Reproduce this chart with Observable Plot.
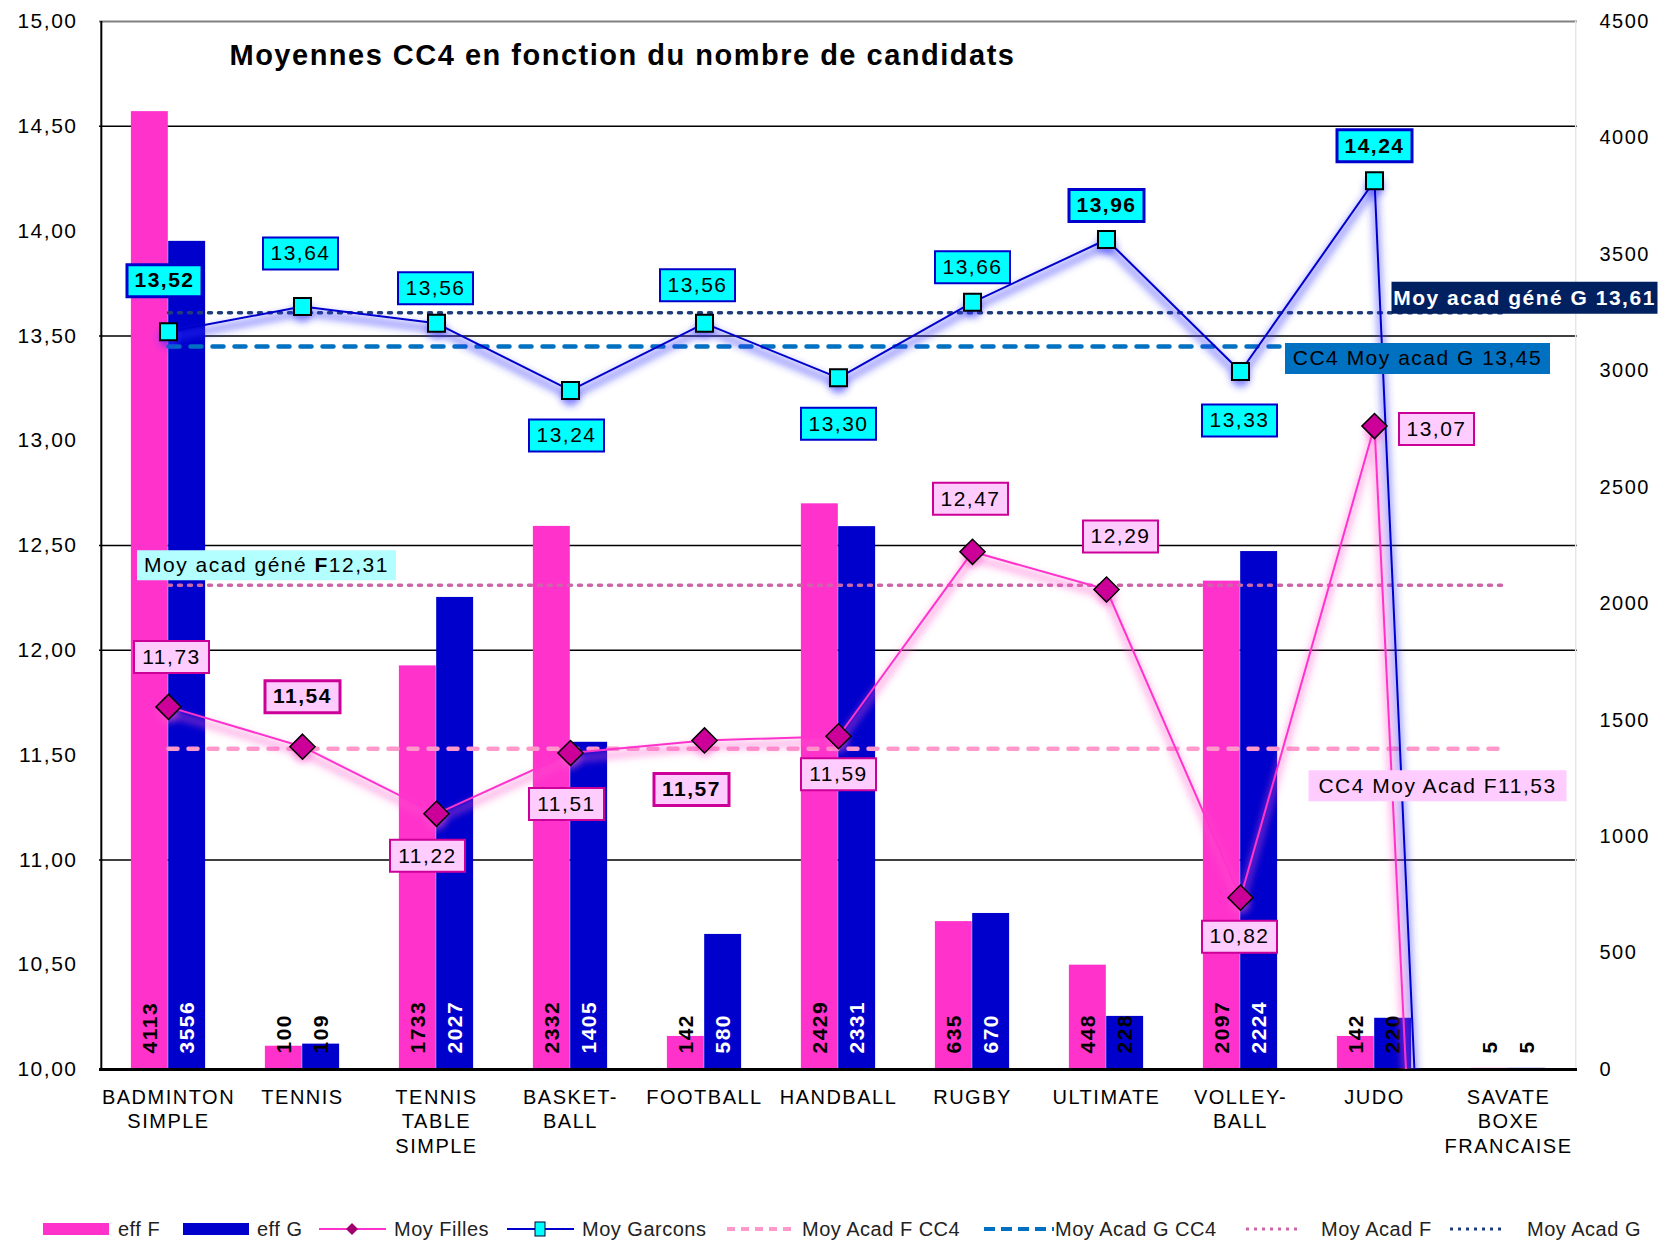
<!DOCTYPE html>
<html><head><meta charset="utf-8">
<script src="https://cdn.jsdelivr.net/npm/d3@7"></script>
<script src="https://cdn.jsdelivr.net/npm/@observablehq/plot@0.6"></script>
<style>
html,body{margin:0;padding:0;background:#fff;overflow:hidden;}
body{font-family:"Liberation Sans",Arial,sans-serif;width:1671px;}
#chart svg{letter-spacing:1.5px;display:block;}
#legend{position:relative;width:1671px;height:37px;font-size:20px;color:#222;}
#legend .sw{position:absolute;top:6px;height:24px;}
#legend .lb{position:absolute;top:12px;line-height:24px;white-space:nowrap;letter-spacing:0.5px;}
</style></head><body>
<div id="chart"></div>
<div id="legend"></div>
<script>
// ---------- data ----------
const title = "Moyennes CC4 en fonction du nombre de candidats";
const categories = ["BADMINTON\nSIMPLE","TENNIS","TENNIS\nTABLE\nSIMPLE","BASKET-\nBALL","FOOTBALL","HANDBALL","RUGBY","ULTIMATE","VOLLEY-\nBALL","JUDO","SAVATE\nBOXE\nFRANCAISE"];
const effF = [4113,100,1733,2332,142,2429,635,448,2097,142,5];
const effG = [3556,109,2027,1405,580,2331,670,228,2224,220,5];
const moyFilles  = [11.73,11.54,11.22,11.51,11.57,11.59,12.47,12.29,10.82,13.07,0];
const moyGarcons = [13.52,13.64,13.56,13.24,13.56,13.30,13.66,13.96,13.33,14.24,0];
const moyAcadFCC4 = 11.53;
const moyAcadGCC4 = 13.45;
const moyAcadF = 12.31;
const moyAcadG = 13.61;
const leftTicks = [10,10.5,11,11.5,12,12.5,13,13.5,14,14.5,15];
const rightTicks = [0,500,1000,1500,2000,2500,3000,3500,4000,4500];
const gridValues = [14.5,13.5,12.5,12,11];
const legendLabels = ["eff F","eff G","Moy Filles","Moy Garcons","Moy Acad F CC4","Moy Acad G CC4","Moy Acad F","Moy Acad G"];

// ---------- styling / placement ----------
const W = 1671, H = 1205, mL = 99, mR = 94, mT = 21, mB = 136;
const bw = (W - mL - mR) / categories.length;
const barW = 37.3;
const pink = "#ff33cc", blue = "#0000cc";
const gLabelOffset = [[-4,-51],[-2,-53],[-1,-35],[-4,45],[-7,-38],[0,46],[0,-35],[0,-34],[-1,49],[0,-35]];
const fLabelOffset = [[3,-50],[0,-50],[-9,42],[-4,51],[-13,49],[0,38],[-2,-53],[14,-53],[-1,39],[62,3]];
const gBold = [true,false,false,false,false,false,false,true,false,true];
const fBold = [false,true,false,false,true,false,false,false,false,false];

const toLeft = v => 10 + v / 900;            // right axis (effectifs) -> left axis units
const fmt = v => v.toFixed(2).replace(".", ",");

const rows = categories.map((cat, i) => ({cat, f: effF[i], g: effG[i], mf: moyFilles[i], mg: moyGarcons[i]}));
const pts = rows.filter(d => d.mf > 0);
const refLine = v => [{x: categories[0], y: v}, {x: categories[categories.length - 1], y: v}];
const box = (w, h) => ({draw(ctx) { ctx.moveTo(-w/2, -h/2); ctx.lineTo(w/2, -h/2); ctx.lineTo(w/2, h/2); ctx.lineTo(-w/2, h/2); ctx.closePath(); }});

const gLabelMarks = pts.flatMap((d, k) => {
  const [dx, dy] = gLabelOffset[k];
  return [
    Plot.dot([d], {x: "cat", y: "mg", symbol: box(75, 32), r: 10, fill: "#00ffff", stroke: blue, strokeWidth: gBold[k] ? 3 : 2, dx, dy}),
    Plot.text([d], {x: "cat", y: "mg", text: d => fmt(d.mg), dx, dy, fontSize: 21, fontWeight: gBold[k] ? "bold" : "normal", fill: "black"})
  ];
});
const fLabelMarks = pts.flatMap((d, k) => {
  const [dx, dy] = fLabelOffset[k];
  return [
    Plot.dot([d], {x: "cat", y: "mf", symbol: box(75, 32), r: 10, fill: "#ffccff", stroke: "#cc0099", strokeWidth: fBold[k] ? 3 : 2, dx, dy}),
    Plot.text([d], {x: "cat", y: "mf", text: d => fmt(d.mf), dx, dy, fontSize: 21, fontWeight: fBold[k] ? "bold" : "normal", fill: "black"})
  ];
});

const annotations = [
  {text: `Moy acad géné G ${fmt(moyAcadG)}`, x: categories[10], y: moyAcadG, dx: 16, dy: -15, w: 266, h: 32, bg: "#002060", color: "white", bold: true},
  {text: `CC4 Moy acad G ${fmt(moyAcadGCC4)}`, x: categories[9], y: moyAcadGCC4, dx: 43, dy: 12, w: 265, h: 31, bg: "#0070c0", color: "black", bold: false},
  {text: `Moy acad géné F${fmt(moyAcadF)}`, x: categories[1], y: moyAcadF, dx: -36, dy: -20, w: 259, h: 30, bg: "#b3ffff", color: "black", bold: false},
  {text: `CC4 Moy Acad F${fmt(moyAcadFCC4)}`, x: categories[9], y: moyAcadFCC4, dx: 63, dy: 37, w: 258, h: 31, bg: "#ffccff", color: "black", bold: false}
];
const annMarks = annotations.flatMap(a => [
  Plot.dot([a], {x: "x", y: "y", symbol: box(a.w, a.h), r: 10, fill: a.bg, dx: a.dx, dy: a.dy}),
  Plot.text([a], {x: "x", y: "y", text: "text", dx: a.dx, dy: a.dy, fill: a.color, fontSize: 21, fontWeight: a.bold ? "bold" : "normal"})
]);

const chart = Plot.plot({
  width: W, height: H,
  marginLeft: mL, marginRight: mR, marginTop: mT, marginBottom: mB,
  style: {fontFamily: "'Liberation Sans', Arial, sans-serif", fontSize: "20px", color: "black", background: "white", overflow: "visible"},
  x: {type: "band", domain: categories, padding: 0, label: null},
  y: {domain: [10, 15], label: null},
  marks: [
    Plot.ruleY(gridValues, {stroke: "black", strokeWidth: 1.5}),
    Plot.ruleY([15], {stroke: "#808080", strokeWidth: 2}),
    Plot.ruleX([categories[categories.length - 1]], {y1: 10, y2: 15, dx: bw / 2, stroke: "#e6e6e6", strokeWidth: 1.5}),
    // bars (effectifs, right axis)
    Plot.barY(rows, {x: "cat", y1: 10, y2: d => toLeft(d.f), fill: pink, insetLeft: bw / 2 - barW, insetRight: bw / 2}),
    Plot.barY(rows, {x: "cat", y1: 10, y2: d => toLeft(d.g), fill: blue, insetLeft: bw / 2, insetRight: bw / 2 - barW}),
    Plot.text(rows, {x: "cat", y: 10, text: d => String(d.f), rotate: -90, textAnchor: "start", lineAnchor: "middle", dx: -barW / 2, dy: -16, fontWeight: "bold", fontSize: 21, fill: "black"}),
    Plot.text(rows, {x: "cat", y: 10, text: d => String(d.g), rotate: -90, textAnchor: "start", lineAnchor: "middle", dx: barW / 2, dy: -16, fontWeight: "bold", fontSize: 21, fill: d => d.g >= 400 ? "white" : "black"}),
    // axes lines
    Plot.ruleX([categories[0]], {y1: 10, y2: 15, dx: -bw / 2, stroke: "black", strokeWidth: 2}),
    Plot.ruleY([10], {stroke: "black", strokeWidth: 3}),
    // reference lines
    Plot.line(refLine(moyAcadFCC4), {x: "x", y: "y", stroke: "#ff99cc", strokeWidth: 4.5, strokeDasharray: "9,11", strokeLinecap: "round"}),
    Plot.line(refLine(moyAcadGCC4), {x: "x", y: "y", stroke: "#0070c0", strokeWidth: 4.5, strokeDasharray: "11,11", strokeLinecap: "round"}),
    Plot.line(refLine(moyAcadF), {x: "x", y: "y", stroke: "#cc66a8", strokeWidth: 3.5, strokeDasharray: "3,7"}),
    Plot.line(refLine(moyAcadG), {x: "x", y: "y", stroke: "#1f3d7a", strokeWidth: 3.5, strokeDasharray: "3,7"}),
    // glow shadows
    Plot.line(rows, {x: "cat", y: "mg", stroke: "#3333ff", strokeOpacity: 0.45, strokeWidth: 8, dy: 6, clip: true, ariaDescription: "glow"}),
    Plot.line(rows, {x: "cat", y: "mf", stroke: "#ff55cc", strokeOpacity: 0.4, strokeWidth: 8, dy: 6, clip: true, ariaDescription: "glow"}),
    Plot.dot(pts, {x: "cat", y: "mg", r: 10, fill: "#3333ff", fillOpacity: 0.5, dy: 6, ariaDescription: "glow"}),
    Plot.dot(pts, {x: "cat", y: "mf", r: 10, fill: "#ff55cc", fillOpacity: 0.5, dy: 6, ariaDescription: "glow"}),
    // series lines
    Plot.line(rows, {x: "cat", y: "mg", stroke: blue, strokeWidth: 2, clip: true}),
    Plot.line(rows, {x: "cat", y: "mf", stroke: pink, strokeWidth: 2, clip: true}),
    Plot.dot(pts, {x: "cat", y: "mf", symbol: "diamond2", r: 11.3, fill: "#cc0099", stroke: "black", strokeWidth: 1.5}),
    Plot.dot(pts, {x: "cat", y: "mg", symbol: "square", r: 9.6, fill: "#00ffff", stroke: "black", strokeWidth: 2}),
    ...gLabelMarks,
    ...fLabelMarks,
    ...annMarks,
    // title
    Plot.text([title], {frameAnchor: "top-left", text: d => d, textAnchor: "start", lineAnchor: "middle", dx: 130, dy: 34, fontSize: 29, fontWeight: "bold"}),
    // axes
    Plot.axisY(leftTicks, {anchor: "left", tickSize: 0, tickPadding: 22, tickFormat: fmt, fontSize: 21, label: null}),
    Plot.axisY(rightTicks.map(toLeft), {anchor: "right", tickSize: 0, tickPadding: 22, tickFormat: d => String(Math.round((d - 10) * 900)), fontSize: 20, label: null}),
    Plot.axisX({anchor: "bottom", tickSize: 0, tickPadding: 17, fontSize: 20, lineHeight: 1.22, label: null})
  ]
});
document.getElementById("chart").append(chart);

// glow filter
const svg = d3.select(chart.tagName.toLowerCase() === "svg" ? chart : chart.querySelector("svg"));
svg.insert("defs", ":first-child").html('<filter id="glow" x="-10%" y="-20%" width="120%" height="140%"><feGaussianBlur stdDeviation="3.5"/></filter>');
svg.selectAll('[aria-description="glow"]').attr("filter", "url(#glow)");
// bold "F" in the acad F label
svg.selectAll("text").filter(function() { return this.textContent === annotations[2].text; }).each(function() {
  const t = d3.select(this); t.text("");
  t.append("tspan").text("Moy acad géné ");
  t.append("tspan").attr("font-weight", "bold").text("F");
  t.append("tspan").text(fmt(moyAcadF));
});

// ---------- legend ----------
const legendSwatch = [
  {left: 43, w: 66, svg: `<rect x="0" y="6" width="66" height="12" fill="${pink}"/>`},
  {left: 183, w: 66, svg: `<rect x="0" y="6" width="66" height="12" fill="${blue}"/>`},
  {left: 319, w: 67, svg: `<line x1="0" y1="12" x2="67" y2="12" stroke="${pink}" stroke-width="2"/><path d="M33,6 L39,12 L33,18 L27,12Z" fill="#a0006e"/>`},
  {left: 507, w: 67, svg: `<line x1="0" y1="12" x2="67" y2="12" stroke="${blue}" stroke-width="2"/><rect x="28" y="5" width="10" height="14" fill="#00ffff" stroke="#003" stroke-width="1"/>`},
  {left: 724, w: 74, svg: `<line x1="3" y1="12" x2="72" y2="12" stroke="#ff99cc" stroke-width="4" stroke-dasharray="8,6"/>`},
  {left: 982, w: 72, svg: `<line x1="2" y1="12" x2="72" y2="12" stroke="#0070c0" stroke-width="4" stroke-dasharray="11,6"/>`},
  {left: 1246, w: 54, svg: `<line x1="0" y1="12" x2="54" y2="12" stroke="#cc66a8" stroke-width="3" stroke-dasharray="3,5"/>`},
  {left: 1450, w: 54, svg: `<line x1="0" y1="12" x2="54" y2="12" stroke="#1f3d7a" stroke-width="3" stroke-dasharray="3,5"/>`}
];
const legendTextLeft = [118, 257, 394, 582, 802, 1055, 1321, 1527];
const legend = document.getElementById("legend");
legendLabels.forEach((label, i) => {
  const s = legendSwatch[i];
  legend.insertAdjacentHTML("beforeend",
    `<svg class="sw" style="left:${s.left}px;top:12px" width="${s.w}" height="24">${s.svg}</svg>` +
    `<div class="lb" style="left:${legendTextLeft[i]}px">${label}</div>`);
});
</script>
</body></html>
